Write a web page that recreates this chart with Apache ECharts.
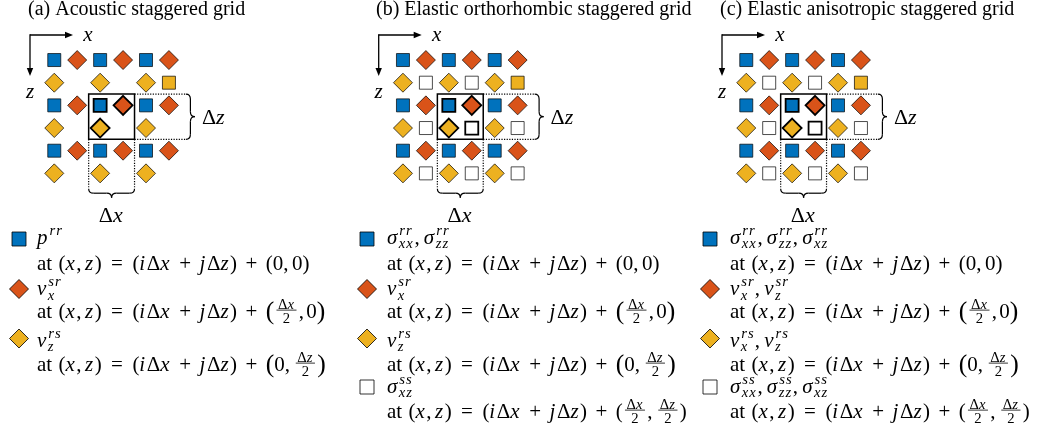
<!DOCTYPE html>
<html>
<head>
<meta charset="utf-8">
<script src="https://cdn.jsdelivr.net/npm/echarts@6/dist/echarts.min.js"></script>
<style>
  html, body { margin: 0; background: #fff; }
  #chart { width: 1038px; height: 432px; }
</style>
</head>
<body>
<div id="chart"></div>
<script>
// grid layouts: one string per row (z), one letter per column (x)
// B blue square, O orange diamond, Y yellow diamond, W white square, Q yellow square, . empty
const layoutA = ['BOBOBO', 'Y.Y.YQ', 'BOBOBO', 'Y.Y.Y.', 'BOBOBO', 'Y.Y.Y.'];
const layoutB = ['BOBOBO', 'YWYWYQ', 'BOBOBO', 'YWYWYW', 'BOBOBO', 'YWYWYW'];
const layoutC = ['BOBOBO', 'YWYWYQ', 'BOBOBO', 'YWYWYW', 'BOBOBO', 'YWYWYW'];
// cells of the bold unit cell, "col,row"
const focusCells = ['2,2', '3,2', '2,3', '3,3'];

const titles = ['(a) Acoustic staggered grid', '(b) Elastic orthorhombic staggered grid', '(c) Elastic anisotropic staggered grid'];

// legend entries: names are [letter, superscript, subscript]
const legendA = [
  { kind: 'B', names: [['p', 'rr', '']], offset: '00' },
  { kind: 'O', names: [['v', 'sr', 'x']], offset: 'x0' },
  { kind: 'Y', names: [['v', 'rs', 'z']], offset: '0z' }
];
const legendB = [
  { kind: 'B', names: [['σ', 'rr', 'xx'], ['σ', 'rr', 'zz']], offset: '00' },
  { kind: 'O', names: [['v', 'sr', 'x']], offset: 'x0' },
  { kind: 'Y', names: [['v', 'rs', 'z']], offset: '0z' },
  { kind: 'W', names: [['σ', 'ss', 'xz']], offset: 'xz' }
];
const legendC = [
  { kind: 'B', names: [['σ', 'rr', 'xx'], ['σ', 'rr', 'zz'], ['σ', 'rr', 'xz']], offset: '00' },
  { kind: 'O', names: [['v', 'sr', 'x'], ['v', 'sr', 'z']], offset: 'x0' },
  { kind: 'Y', names: [['v', 'rs', 'x'], ['v', 'rs', 'z']], offset: '0z' },
  { kind: 'W', names: [['σ', 'ss', 'xx'], ['σ', 'ss', 'zz'], ['σ', 'ss', 'xz']], offset: 'xz' }
];

const kinds = {
  B: { symbol: 'rect', size: 13, color: '#0072BD' },
  O: { symbol: 'diamond', size: 19, color: '#D95319' },
  Y: { symbol: 'diamond', size: 19, color: '#EDB120' },
  W: { symbol: 'rect', size: 13, color: '#FFFFFF' },
  Q: { symbol: 'rect', size: 13, color: '#EDB120' }
};

const layouts = [layoutA, layoutB, layoutC];
const legends = [legendA, legendB, legendC];
const panelX = [0, 348.7, 692];
const titleX = [28, 376, 720];

const chart = echarts.init(document.getElementById('chart'));

const series = [];
layouts.forEach((rows, pi) => {
  Object.keys(kinds).forEach(k => {
    const data = [];
    rows.forEach((row, r) => {
      row.split('').forEach((ch, c) => {
        if (ch !== k) return;
        if (focusCells.includes(c + ',' + r)) data.push({ value: [c, r], itemStyle: { borderWidth: 1.8 } });
        else data.push([c, r]);
      });
    });
    if (!data.length) return;
    series.push({
      type: 'scatter', xAxisIndex: pi, yAxisIndex: pi, silent: true,
      symbol: kinds[k].symbol, symbolSize: kinds[k].size,
      itemStyle: { color: kinds[k].color, borderColor: '#000', borderWidth: 0.7, opacity: 1 },
      data: data
    });
  });
});

chart.setOption({
  animation: false,
  grid: panelX.map(px => ({ left: 42.8 + px, top: 48.7, width: 137.6, height: 136 })),
  xAxis: panelX.map((px, i) => ({ type: 'value', gridIndex: i, min: -0.5, max: 5.5, show: false })),
  yAxis: panelX.map((px, i) => ({ type: 'value', gridIndex: i, min: -0.5, max: 5.5, inverse: true, show: false })),
  series: series
});

// ---- text helpers (math-ish layout with measured widths) ----
const mctx = document.createElement('canvas').getContext('2d');
const FAM = '"Liberation Serif", "Times New Roman", serif';
const MID = 0.17;   // middle-of-text offset above the baseline, in em
const TRACK = 0.07; // extra spacing after italic math letters, in em
function fontOf(it, s) { return (it ? 'italic ' : '') + s + 'px ' + FAM; }
function measure(t, it, s) { mctx.font = fontOf(it, s); return mctx.measureText(t).width; }
function put(out, t, it, s, x, base, align) {
  if (it && !align) {
    // math italic: draw letter by letter with a little tracking
    let x0 = x;
    t.split('').forEach(ch => {
      if (out) out.push({ type: 'text', silent: true, style: { text: ch, x: x0, y: base - MID * s, font: fontOf(true, s), fill: '#000', textAlign: 'left', textVerticalAlign: 'middle' } });
      x0 += measure(ch, true, s) + TRACK * s;
    });
    return x0 - x;
  }
  if (out) {
    out.push({
      type: 'text', silent: true,
      style: { text: t, x: x, y: base - MID * s, font: fontOf(it, s), fill: '#000',
        textAlign: align || 'left', textVerticalAlign: 'middle' }
    });
  }
  return measure(t, it, s);
}
// tokens: ['r', text] roman, ['i', text] italic, ['s', em] space, ['b', text] big roman, ['f', num, den] fraction
function run(out, tokens, x, base, S) {
  tokens.forEach(tk => {
    const k = tk[0];
    if (k === 's') x += tk[1] * S;
    else if (k === 'r') x += put(out, tk[1], false, S, x, base);
    else if (k === 'i') x += put(out, tk[1], true, S, x, base);
    else if (k === 'b') x += put(out, tk[1], false, 1.22 * S, x, base + 0.04 * S);
    else if (k === 'f') {
      const s2 = 0.7 * S, pad = 0.18 * S;
      const wn = run(null, tk[1], 0, 0, s2), wd = run(null, tk[2], 0, 0, s2);
      const W = Math.max(wn, wd);
      const axis = base - 0.28 * S;
      run(out, tk[1], x + pad + (W - wn) / 2, axis - 2.2, s2);
      run(out, tk[2], x + pad + (W - wd) / 2, axis + 1.8 + 0.66 * s2, s2);
      if (out) out.push({ type: 'line', silent: true, shape: { x1: x + pad * 0.6, y1: axis, x2: x + pad * 1.4 + W, y2: axis }, style: { stroke: '#000', lineWidth: 0.8 } });
      x += W + 2 * pad;
    }
  });
  return x;
}
function names(out, list, x, base, S) {
  list.forEach((n, i) => {
    if (i > 0) { x += put(out, ',', false, S, x, base); x += 0.2 * S; }
    x += put(out, n[0], true, S, x, base);
    const s2 = 0.7 * S;
    const w1 = put(out, n[1], true, s2, x + 0.5, base - 0.42 * S);
    const w2 = n[2] ? put(out, n[2], true, s2, x, base + 0.24 * S) : 0;
    x += Math.max(w1, w2) + 0.5;
  });
}
const dx = [['r', 'Δ'], ['i', 'x']], dz = [['r', 'Δ'], ['i', 'z']], two = [['r', '2']];
const head = [['r', 'at'], ['s', 0.3], ['r', '('], ['i', 'x'], ['r', ','], ['s', 0.167], ['i', 'z'], ['r', ')'],
  ['s', 0.45], ['r', '='], ['s', 0.45], ['r', '('], ['i', 'i'], ['r', 'Δ'], ['i', 'x'], ['s', 0.4], ['r', '+'], ['s', 0.4],
  ['i', 'j'], ['r', 'Δ'], ['i', 'z'], ['r', ')'], ['s', 0.4], ['r', '+'], ['s', 0.4]];
const tails = {
  '00': [['r', '('], ['r', '0'], ['r', ','], ['s', 0.167], ['r', '0'], ['r', ')']],
  'x0': [['b', '('], ['f', dx, two], ['r', ','], ['s', 0.1], ['r', '0'], ['b', ')']],
  '0z': [['b', '('], ['r', '0'], ['r', ','], ['s', 0.167], ['f', dz, two], ['b', ')']],
  'xz': [['r', '('], ['f', dx, two], ['r', ','], ['s', 0.167], ['f', dz, two], ['r', ')']]
};

// ---- annotations ----
const g = [];
const S = 21;
const stroke = w => ({ fill: 'none', stroke: '#000', lineWidth: w });
const line = (x1, y1, x2, y2, w, dash) => g.push({ type: 'line', silent: true, shape: { x1, y1, x2, y2 }, style: { stroke: '#000', lineWidth: w, lineDash: dash || null } });
const curve = (x1, y1, cpx1, cpy1, x2, y2) => g.push({ type: 'bezierCurve', silent: true, shape: { x1, y1, cpx1, cpy1, x2, y2 }, style: stroke(1.2) });
const markerY = [239, 289, 338.5, 387];
const nameBase = [242, 293.5, 345, 391];
const atBase = [268, 316, 369, 416];
const markerX = [19, 367, 710], textX = [37, 387, 730];

panelX.forEach((px, pi) => {
  put(g, titles[pi], false, 20, titleX[pi], 13.5);

  // axis arrows
  const ox = px + 30, oy = 35;
  line(ox, oy, ox + 37, oy, 1.3);
  g.push({ type: 'polygon', silent: true, shape: { points: [[ox + 43, oy], [ox + 35, oy - 3.2], [ox + 35, oy + 3.2]] }, style: { fill: '#000' } });
  line(ox, oy - 0.65, ox, oy + 35, 1.3);
  g.push({ type: 'polygon', silent: true, shape: { points: [[ox, oy + 41], [ox - 3.2, oy + 33], [ox + 3.2, oy + 33]] }, style: { fill: '#000' } });
  put(g, 'x', true, 21, px + 88, 39, 'center');
  put(g, 'z', true, 21, px + 30, 96, 'center');

  // unit cell box and dotted extensions
  const p0 = chart.convertToPixel({ gridIndex: pi }, [1.5, 1.5]);
  const p1 = chart.convertToPixel({ gridIndex: pi }, [3.5, 3.5]);
  const pe = chart.convertToPixel({ gridIndex: pi }, [5.5, 5.5]);
  const rx = pe[0] + 5.5, by = pe[1] + 4;
  const dot = [1.2, 1.4];
  line(p1[0], p0[1], rx, p0[1], 1.2, dot);
  line(p1[0], p1[1], rx, p1[1], 1.2, dot);
  line(p0[0], p1[1], p0[0], by, 1.2, dot);
  line(p1[0], p1[1], p1[0], by, 1.2, dot);
  g.push({ type: 'rect', silent: true, shape: { x: p0[0], y: p0[1], width: p1[0] - p0[0], height: p1[1] - p0[1] }, style: stroke(1.5) });

  // right brace
  const h = 4.5, r = 5, ym = (p0[1] + p1[1]) / 2;
  curve(rx, p0[1], rx + h, p0[1], rx + h, p0[1] + r);
  line(rx + h, p0[1] + r, rx + h, ym - r, 1.2);
  curve(rx + h, ym - r, rx + h, ym, rx + 2 * h, ym);
  curve(rx + 2 * h, ym, rx + h, ym, rx + h, ym + r);
  line(rx + h, ym + r, rx + h, p1[1] - r, 1.2);
  curve(rx + h, p1[1] - r, rx + h, p1[1], rx, p1[1]);
  // bottom brace
  const xm = (p0[0] + p1[0]) / 2;
  curve(p0[0], by, p0[0], by + h, p0[0] + r, by + h);
  line(p0[0] + r, by + h, xm - r, by + h, 1.2);
  curve(xm - r, by + h, xm, by + h, xm, by + 2 * h);
  curve(xm, by + 2 * h, xm, by + h, xm + r, by + h);
  line(xm + r, by + h, p1[0] - r, by + h, 1.2);
  curve(p1[0] - r, by + h, p1[0], by + h, p1[0], by);
  run(g, dz, rx + 2 * h + 7, 122, 22);
  const wdx = run(null, dx, 0, 0, 22);
  run(g, dx, xm - wdx / 2, 220, 22);

  // legend
  legends[pi].forEach((e, i) => {
    const cx = markerX[pi], cy = markerY[i], st = kinds[e.kind];
    if (st.symbol === 'rect') {
      g.push({ type: 'rect', silent: true, shape: { x: cx - 7, y: cy - 7, width: 14, height: 14 }, style: { fill: st.color, stroke: '#000', lineWidth: 0.8 } });
    } else {
      g.push({ type: 'polygon', silent: true, shape: { points: [[cx, cy - 9.5], [cx + 9.5, cy], [cx, cy + 9.5], [cx - 9.5, cy]] }, style: { fill: st.color, stroke: '#000', lineWidth: 0.8 } });
    }
    names(g, e.names, textX[pi], nameBase[i], S);
    run(g, head.concat(tails[e.offset]), textX[pi], atBase[i], S);
  });
});

chart.setOption({ graphic: { elements: g } });
</script>
</body>
</html>
